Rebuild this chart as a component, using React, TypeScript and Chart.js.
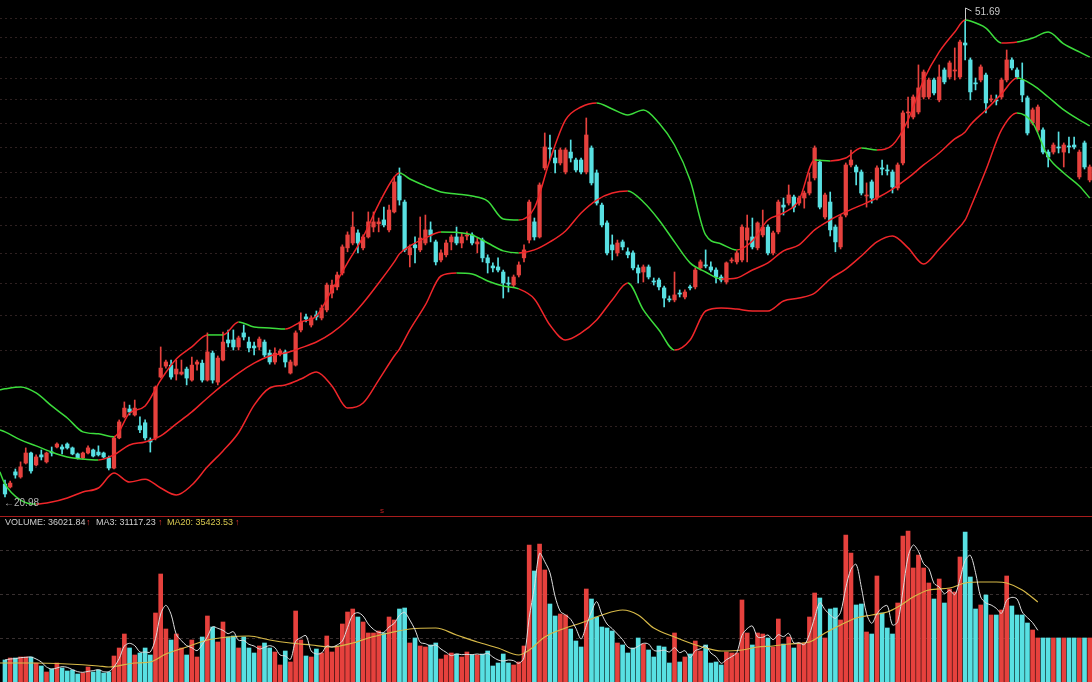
import React, { useEffect, useRef } from 'react';
import { Chart, registerables } from 'chart.js';

Chart.register(...registerables);

// ---------- price data (one entry per trading day) ----------
const opens = [
  21.50,21.38,22.00,21.79,22.37,22.80,22.29,22.72,22.42,22.84,
  23.06,23.06,23.19,23.02,22.76,22.59,22.80,22.93,22.84,22.80,
  22.59,22.16,23.46,24.41,24.78,24.50,24.00,24.14,23.37,23.46,
  26.32,26.87,26.92,26.47,26.47,26.72,26.17,26.97,27.02,26.17,
  27.54,26.07,27.18,28.23,28.23,27.86,28.61,28.12,27.91,27.86,
  28.12,27.54,27.08,27.49,27.60,26.52,26.92,28.77,29.49,29.04,
  29.60,29.43,29.88,30.85,31.21,32.04,33.60,33.91,34.56,33.60,
  34.30,34.95,35.16,35.42,34.76,35.96,38.49,36.64,33.16,33.79,
  33.47,33.91,34.76,33.98,32.84,33.16,33.98,34.30,33.91,34.36,
  34.43,33.85,34.10,32.97,32.47,32.41,32.10,31.44,31.32,31.92,
  32.97,34.10,35.29,34.30,39.08,40.58,39.82,39.45,38.78,40.27,
  39.67,39.67,38.78,40.58,38.71,36.43,35.22,33.79,33.28,33.98,
  33.35,33.28,32.35,32.10,32.41,31.56,31.62,31.15,30.51,30.45,
  30.85,30.62,31.21,31.21,32.35,32.53,32.41,32.22,31.80,31.50,
  32.78,32.72,32.84,34.10,34.30,33.60,34.43,34.95,33.28,34.63,
  36.43,36.57,36.99,36.57,36.92,37.27,38.35,39.52,35.62,36.64,
  34.95,33.66,35.75,39.30,39.15,38.78,37.06,38.06,36.92,39.08,
  38.93,38.78,37.63,39.45,43.36,43.03,43.44,44.69,44.69,46.15,
  44.44,47.03,46.41,46.94,46.41,49.49,47.93,45.89,46.15,46.58,
  44.44,44.44,44.69,46.15,47.93,47.03,46.15,44.61,42.55,41.99,
  41.99,40.27,40.27,40.66,40.27,40.74,40.81,38.42,40.97,38.20,
];
const closes = [
  21.10,21.54,21.87,22.21,22.80,22.04,22.63,22.63,22.80,22.80,
  23.19,22.97,23.02,22.76,22.59,22.80,23.02,22.67,22.72,22.63,
  22.16,23.46,24.18,24.82,24.64,24.82,23.82,23.46,23.28,25.83,
  26.77,27.08,26.32,26.72,26.57,26.27,26.92,27.08,26.17,27.60,
  26.17,27.28,28.12,28.07,27.86,28.34,28.39,27.81,27.81,28.28,
  27.44,27.08,27.54,27.65,27.08,27.08,28.61,29.21,29.38,29.43,
  29.49,29.99,31.32,31.32,31.92,33.66,34.43,34.95,33.91,34.30,
  35.29,35.29,35.29,35.09,36.09,38.06,36.78,33.47,33.60,33.60,
  34.23,34.76,34.43,32.72,33.28,33.91,34.30,33.91,34.30,34.43,
  33.91,33.98,32.97,32.66,32.35,32.22,31.44,31.38,31.80,32.53,
  33.47,36.64,34.30,37.84,40.66,40.51,39.45,40.43,40.43,39.82,
  38.93,38.78,41.59,37.99,36.57,35.09,33.28,33.47,33.91,33.66,
  33.16,32.35,32.04,32.41,31.80,31.50,31.21,30.56,30.45,30.74,
  30.79,30.91,31.15,32.22,32.72,32.47,32.22,31.80,31.62,32.66,
  32.84,33.28,34.95,34.89,33.66,35.22,34.95,33.28,34.56,36.64,
  36.29,37.13,36.29,36.92,37.27,38.06,40.58,36.29,37.13,34.76,
  33.98,35.62,39.30,39.67,38.78,37.27,37.13,36.92,39.08,39.00,
  38.86,37.70,39.30,43.36,43.44,44.69,45.46,46.85,46.15,45.03,
  46.41,45.98,47.66,47.03,49.58,49.30,45.12,45.81,47.30,44.19,
  44.52,44.36,46.15,47.93,47.21,46.41,44.86,41.75,43.61,43.85,
  40.27,39.90,40.81,40.58,40.81,40.66,40.66,40.27,39.15,39.15,
];
const highs = [
  21.66,21.62,22.12,22.42,23.02,22.84,22.72,22.93,22.84,23.06,
  23.24,23.15,23.24,23.06,22.80,22.84,23.11,22.97,23.11,22.84,
  22.67,23.51,24.27,25.11,24.96,25.20,24.41,24.27,23.46,25.88,
  27.86,27.18,27.18,27.18,27.18,26.82,27.33,27.18,27.18,28.61,
  27.65,27.39,28.66,28.77,28.77,28.44,29.04,28.39,28.12,28.39,
  28.23,27.70,27.81,27.75,27.70,27.18,28.72,29.71,29.65,29.54,
  29.82,30.16,31.44,31.62,32.10,33.79,34.63,35.96,34.76,34.43,
  35.96,35.96,35.55,36.29,36.43,38.42,39.08,36.78,33.79,34.30,
  35.62,35.75,35.29,34.10,33.47,34.10,34.43,34.95,34.56,34.63,
  34.56,34.23,34.23,33.16,32.66,32.97,32.22,31.80,31.92,32.72,
  33.79,36.78,35.55,37.99,41.75,41.59,40.43,40.58,40.58,41.20,
  39.82,39.82,42.95,40.74,38.93,36.57,35.36,34.43,34.10,34.10,
  33.60,33.41,32.53,32.53,32.53,31.74,31.74,31.26,30.68,32.10,
  31.03,31.03,31.32,32.35,32.84,33.47,32.72,32.35,31.92,32.72,
  32.97,33.41,35.09,35.75,35.55,35.29,36.09,35.09,34.69,36.78,
  36.92,37.84,37.13,37.06,37.41,38.71,40.74,39.67,37.27,37.34,
  35.09,35.75,39.45,40.43,39.30,38.93,37.99,38.20,39.23,39.67,
  39.30,38.93,39.45,43.53,44.69,44.86,47.48,47.03,46.32,46.32,
  47.48,47.21,47.84,49.03,49.77,51.69,48.11,46.32,47.48,46.76,
  44.86,44.86,46.32,48.84,48.11,47.21,47.66,44.77,43.77,44.02,
  42.15,40.43,40.97,41.83,40.97,41.43,41.43,40.43,41.12,39.30,
];
const lows = [
  20.98,21.34,21.74,21.74,22.33,21.95,22.25,22.50,22.37,22.67,
  23.02,22.76,22.97,22.72,22.54,22.54,22.76,22.63,22.67,22.59,
  22.08,22.12,23.42,24.36,24.50,24.45,23.69,23.37,22.84,23.37,
  26.27,26.77,26.22,26.17,26.42,25.93,26.12,26.67,26.07,26.12,
  26.02,25.93,27.13,27.86,27.70,27.70,28.23,27.60,27.44,27.70,
  27.34,26.97,26.97,27.39,26.82,26.47,26.87,28.66,29.21,28.93,
  29.32,29.32,29.77,30.56,31.03,31.92,33.35,33.79,33.28,33.47,
  34.23,34.63,34.63,34.95,34.63,35.89,36.43,33.35,32.41,32.66,
  33.35,33.79,33.98,32.53,32.72,33.03,33.47,33.79,33.60,34.10,
  33.79,33.28,32.72,32.04,32.10,32.10,30.56,30.91,31.21,31.80,
  32.72,33.91,34.10,34.23,38.93,39.67,38.71,39.30,38.64,39.52,
  38.78,38.64,38.64,37.84,36.43,34.95,33.16,32.84,33.09,33.47,
  32.97,32.22,31.44,31.50,31.68,31.32,31.03,30.05,30.34,30.34,
  30.62,30.51,31.03,31.09,32.22,32.35,32.10,31.44,31.50,31.38,
  32.66,32.59,32.72,32.72,33.53,33.47,34.30,33.16,33.16,34.50,
  35.75,36.43,35.96,36.43,36.22,37.13,38.20,36.16,35.49,34.36,
  33.35,33.53,35.62,39.15,37.84,37.13,36.29,36.57,36.78,38.56,
  38.56,37.27,37.48,39.30,42.15,42.87,43.28,44.52,44.52,44.86,
  44.28,45.81,46.23,46.15,46.23,47.93,44.44,45.29,45.98,43.36,
  44.28,44.02,44.52,45.98,47.03,46.23,44.28,41.59,42.39,41.83,
  40.12,39.15,40.12,40.20,39.15,40.20,40.51,38.27,39.00,38.06,
];

// ---------- Bollinger bands, read at sampled days (-1 = day before first) ----------
const bandIndex = [
  -1,0,3,6,9,12,15,18,21,24,27,30,33,36,39,42,45,48,51,54,57,60,63,66,69,72,75,76,
  78,81,84,87,90,93,96,99,102,105,108,111,114,117,120,123,126,129,132,135,138,141,
  144,147,150,153,156,159,162,165,168,171,174,177,180,183,185,186,189,192,195,198,
  201,204,207,209,
];
const bandUpper = [
  25.69,25.74,25.83,25.54,24.92,24.36,23.73,23.64,23.51,24.59,24.92,26.17,27.23,27.86,28.50,28.50,29.21,28.93,28.88,28.82,29.21,29.54,31.03,32.66,34.30,36.50,38.42,38.71,
  38.27,37.77,37.34,37.20,37.06,36.71,35.49,35.42,36.23,39.67,42.79,43.85,44.19,43.69,43.20,43.61,42.55,40.81,38.20,34.43,33.85,33.47,
  34.04,35.42,35.89,36.78,39.67,39.60,39.82,40.58,40.43,40.81,42.79,46.15,48.66,50.53,51.69,51.59,50.91,49.49,49.58,49.96,
  50.53,49.40,48.66,48.20,
];
const bandMid = [
  23.82,23.73,23.37,23.11,22.84,22.63,22.54,22.50,22.72,23.15,23.28,23.55,24.09,24.64,25.30,25.93,26.52,27.02,27.39,27.54,27.81,28.12,28.61,29.32,30.28,31.44,32.72,33.22,
  33.72,34.23,34.63,34.60,34.43,33.91,33.41,33.28,33.47,33.98,34.69,35.89,36.78,37.27,37.41,36.64,35.42,33.98,32.66,32.10,31.68,31.74,
  32.22,32.66,33.41,33.79,34.76,35.42,35.96,36.43,36.92,37.55,38.35,39.30,40.20,41.28,41.83,42.39,43.61,44.95,46.32,45.72,
  44.69,43.61,42.79,42.31,
];
const bandLower = [
  22.00,21.50,20.86,20.70,20.78,20.94,21.18,21.34,21.95,21.58,21.70,21.34,21.06,21.46,22.21,22.89,23.69,24.96,25.78,25.93,26.22,26.57,25.88,24.82,25.06,26.17,27.39,27.75,
  28.77,30.16,31.86,32.04,31.98,31.56,31.26,31.09,30.51,29.04,28.23,28.61,29.32,30.45,31.44,29.88,28.77,27.70,28.23,29.82,29.99,29.93,
  29.82,29.82,30.39,30.56,30.85,31.68,32.28,33.09,33.98,34.36,33.60,32.59,33.53,34.63,35.42,36.23,38.93,41.99,43.36,42.55,
  39.90,38.71,37.77,36.92,
];

// ---------- volume ----------
const volumes = [
  18000,19630,19630,20450,20450,20450,15540,13090,8180,10630,
  15540,11450,9000,9820,6540,7360,12270,8180,9820,7360,
  8180,21270,27810,39260,27810,22090,23720,27810,22090,56440,
  88340,43350,34360,39260,27810,22090,34360,20450,36810,53990,
  44990,32720,49080,36810,37630,27810,36810,27810,23720,29450,
  31900,27810,24540,13910,25360,16360,58080,34360,21270,20450,
  26990,23720,37630,24540,28630,47440,57260,59710,53170,49080,
  40080,40080,41720,40080,53170,50720,59710,60530,31900,35990,
  29450,28630,30270,31900,18810,22090,23720,22900,20450,24540,
  22090,22090,22900,25360,13090,15540,22900,15540,13910,16360,
  29450,112070,90800,112880,91620,63800,53990,55620,54810,43350,
  33540,28630,76070,67890,53170,44990,44170,41720,31900,30270,
  23720,27810,35990,31080,26180,20450,29450,28630,15540,40080,
  16360,20450,22900,33540,25360,30270,15540,16360,13910,24540,
  23720,23720,67080,40080,30270,40080,39260,35990,28630,51530,
  31080,36810,27810,31900,31900,53170,72800,68710,35990,59710,
  60530,50720,120250,105520,62990,63800,40900,39260,86710,56440,
  44170,39260,64620,119430,123520,93250,103890,93250,80980,67890,
  84250,64620,76070,73620,102250,122700,85890,59710,62990,71170,
  54810,54810,58900,86710,62170,54810,54810,48260,42540,36020,
  36020,36020,36020,36020,36020,36020,36020,36020,36020,36021.84,
];
const volMa20Index = [
  -1,5,12,18,20,25,28,31,35,39,43,47,51,55,59,63,67,70,74,78,83,87,91,95,99,
  101,104,108,111,115,119,122,125,129,132,135,138,142,145,148,151,155,158,161,164,
  167,170,172,175,178,182,185,188,191,193,196,199,
];
const volMa20 = [
  15540,15540,14720,13090,12270,15540,16360,22900,28630,34360,36810,37630,34360,31900,30270,28630,31900,35990,40080,43350,44170,38450,32720,27810,22090,
  26180,36810,44170,48260,54810,58900,54810,44170,36810,31900,27810,25360,26180,28630,29450,31080,32720,40080,46630,52350,
  54810,57260,61350,69530,75260,76890,80980,81800,81800,80980,75260,65440,
];
const volMaLastIndex = 199;

const priceGridValues = [22.22,23.99,25.88,27.70,29.59,31.46,33.26,35.09,36.97,38.80,40.66,42.57,44.52,46.30,48.17,50.03,51.86];
const volumeGridValues = [36000, 72000, 108000];

const highLabel = '51.69';
const lowLabel = '\u219020.98';
const legendVolume = 'VOLUME: 36021.84';
const legendMa3 = 'MA3: 31117.23';
const legendMa20 = 'MA20: 35423.53';

// ---------- layout constants ----------
const X_MIN = -0.963;
const X_MAX = 209.44;
const PRICE_MIN = 20.24;
const PRICE_MAX = 53.68;
const VOL_MAX = 135790;

const RED = '#e6413d';
const CYAN = '#58e0e2';
const BAND_RED = '#f0262a';
const BAND_GREEN = '#3cdc3c';

export default function App() {
  const priceRef = useRef<HTMLCanvasElement | null>(null);
  const volRef = useRef<HTMLCanvasElement | null>(null);

  useEffect(() => {
    document.body.style.margin = '0';
    document.body.style.background = '#000';

    const up = closes.map((c, i) => c >= opens[i]);
    const colors = up.map((u) => (u ? RED : CYAN));
    const midUp = (a: number, b: number) => bandMid[b] > bandMid[a];

    const priceGrid = {
      id: 'priceGrid',
      beforeDatasetsDraw(chart: any) {
        const { ctx, chartArea, scales } = chart;
        ctx.save();
        ctx.strokeStyle = '#2e2020';
        ctx.lineWidth = 1;
        ctx.setLineDash([2, 3]);
        priceGridValues.forEach((v) => {
          const py = Math.round(scales.y.getPixelForValue(v)) + 0.5;
          ctx.beginPath();
          ctx.moveTo(chartArea.left, py);
          ctx.lineTo(chartArea.right, py);
          ctx.stroke();
        });
        ctx.restore();
      },
      afterDatasetsDraw(chart: any) {
        const { ctx, scales } = chart;
        let hi = 0;
        highs.forEach((h, i) => { if (h > highs[hi]) hi = i; });
        const px = Math.round(scales.x.getPixelForValue(hi)) + 0.5;
        const py = scales.y.getPixelForValue(highs[hi]);
        ctx.save();
        ctx.strokeStyle = '#c8c8c8';
        ctx.lineWidth = 1;
        ctx.beginPath();
        ctx.moveTo(px, py);
        ctx.lineTo(px, py - 12);
        ctx.lineTo(px + 6, py - 9);
        ctx.stroke();
        ctx.restore();
      },
    };

    const bandData = (vals: number[]) => bandIndex.map((x, k) => ({ x, y: vals[k] }));
    const lineBase = {
      type: 'line' as const,
      borderWidth: 1.5,
      pointRadius: 0,
      fill: false,
      cubicInterpolationMode: 'monotone' as const,
      order: 0,
    };

    const priceChart = new Chart(priceRef.current as HTMLCanvasElement, {
      type: 'bar',
      data: {
        datasets: [
          {
            ...lineBase,
            data: bandData(bandUpper),
            borderColor: BAND_GREEN,
            segment: {
              borderColor: (c: any) =>
                bandUpper[c.p1DataIndex] > bandUpper[c.p0DataIndex] && midUp(c.p0DataIndex, c.p1DataIndex) ? BAND_RED : BAND_GREEN,
            },
          } as any,
          {
            ...lineBase,
            data: bandData(bandMid),
            borderColor: BAND_RED,
            segment: {
              borderColor: (c: any) => (midUp(c.p0DataIndex, c.p1DataIndex) ? BAND_RED : BAND_GREEN),
            },
          } as any,
          {
            ...lineBase,
            data: bandData(bandLower),
            borderColor: BAND_RED,
            segment: {
              borderColor: (c: any) =>
                bandLower[c.p1DataIndex] <= bandLower[c.p0DataIndex] && !midUp(c.p0DataIndex, c.p1DataIndex) ? BAND_GREEN : BAND_RED,
            },
          } as any,
          {
            type: 'bar',
            data: closes.map((c, i) => ({ x: i, y: [opens[i], c] })),
            backgroundColor: colors,
            borderWidth: 0,
            barThickness: 3.6,
            minBarLength: 1,
            grouped: false,
            order: 3,
          } as any,
          {
            type: 'bar',
            data: lows.map((l, i) => ({ x: i, y: [l, highs[i]] })),
            backgroundColor: colors,
            borderWidth: 0,
            barThickness: 1,
            grouped: false,
            order: 4,
          } as any,
        ],
      },
      options: {
        animation: false,
        responsive: false,
        maintainAspectRatio: false,
        events: [],
        layout: { padding: 0 },
        plugins: { legend: { display: false }, tooltip: { enabled: false } },
        scales: {
          x: { type: 'linear', min: X_MIN, max: X_MAX, display: false, offset: false },
          y: { type: 'logarithmic', min: PRICE_MIN, max: PRICE_MAX, display: false },
        },
      } as any,
      plugins: [priceGrid as any],
    });

    const volMa3 = volumes.slice(0, volMaLastIndex + 1).map((_, i) => {
      const s = volumes.slice(Math.max(0, i - 2), i + 1);
      return { x: i, y: s.reduce((a, b) => a + b, 0) / s.length };
    });

    const volGrid = {
      id: 'volGrid',
      beforeDatasetsDraw(chart: any) {
        const { ctx, chartArea, scales } = chart;
        ctx.save();
        ctx.strokeStyle = '#383030';
        ctx.lineWidth = 1;
        ctx.setLineDash([3, 3]);
        volumeGridValues.forEach((v) => {
          const py = Math.round(scales.y.getPixelForValue(v)) + 0.5;
          ctx.beginPath();
          ctx.moveTo(chartArea.left, py);
          ctx.lineTo(chartArea.right, py);
          ctx.stroke();
        });
        ctx.setLineDash([]);
        ctx.strokeStyle = '#a81c1c';
        ctx.beginPath();
        ctx.moveTo(0, 0.5);
        ctx.lineTo(chart.width, 0.5);
        ctx.stroke();
        ctx.restore();
      },
    };

    const volChart = new Chart(volRef.current as HTMLCanvasElement, {
      type: 'bar',
      data: {
        datasets: [
          {
            type: 'line',
            data: volMa3,
            borderColor: '#dedede',
            borderWidth: 1,
            pointRadius: 0,
            tension: 0.3,
            order: 0,
          } as any,
          {
            type: 'line',
            data: volMa20Index.map((x, k) => ({ x, y: volMa20[k] })),
            borderColor: '#d8ba48',
            borderWidth: 1.2,
            pointRadius: 0,
            cubicInterpolationMode: 'monotone',
            order: 1,
          } as any,
          {
            type: 'bar',
            data: volumes.map((v, i) => ({ x: i, y: v })),
            backgroundColor: colors,
            borderWidth: 0,
            barThickness: 4,
            grouped: false,
            order: 2,
          } as any,
        ],
      },
      options: {
        animation: false,
        responsive: false,
        maintainAspectRatio: false,
        events: [],
        layout: { padding: 0 },
        plugins: { legend: { display: false }, tooltip: { enabled: false } },
        scales: {
          x: { type: 'linear', min: X_MIN, max: X_MAX, display: false, offset: false },
          y: { type: 'linear', min: 0, max: VOL_MAX, display: false },
        },
      } as any,
      plugins: [volGrid as any],
    });

    return () => {
      priceChart.destroy();
      volChart.destroy();
    };
  }, []);

  const font = '"Liberation Sans", Arial, sans-serif';
  const txt = (left: number, top: number, color: string, size: number, s: string) => (
    <span
      style={{
        position: 'absolute',
        left,
        top,
        color,
        fontSize: size,
        lineHeight: `${size + 3}px`,
        fontFamily: font,
        whiteSpace: 'pre',
      }}
    >
      {s}
    </span>
  );

  return (
    <div style={{ position: 'relative', width: 1092, height: 682, background: '#000', overflow: 'hidden' }}>
      <canvas ref={priceRef} width={1092} height={516} style={{ position: 'absolute', left: 0, top: 0, display: 'block' }} />
      <canvas ref={volRef} width={1092} height={166} style={{ position: 'absolute', left: 0, top: 516, display: 'block' }} />
      {txt(975, 5, '#c8c8c8', 10, highLabel)}
      {txt(4, 496, '#b4b4b4', 10, lowLabel)}
      {txt(380, 505, '#c02020', 8, 's')}
      {txt(5, 516, '#cfcfcf', 9, legendVolume)}
      {txt(86, 516, '#e03030', 9, '\u2191')}
      {txt(96, 516, '#cfcfcf', 9, legendMa3)}
      {txt(158, 516, '#e03030', 9, '\u2191')}
      {txt(167, 516, '#d8c850', 9, legendMa20)}
      {txt(235, 516, '#e03030', 9, '\u2191')}
    </div>
  );
}
